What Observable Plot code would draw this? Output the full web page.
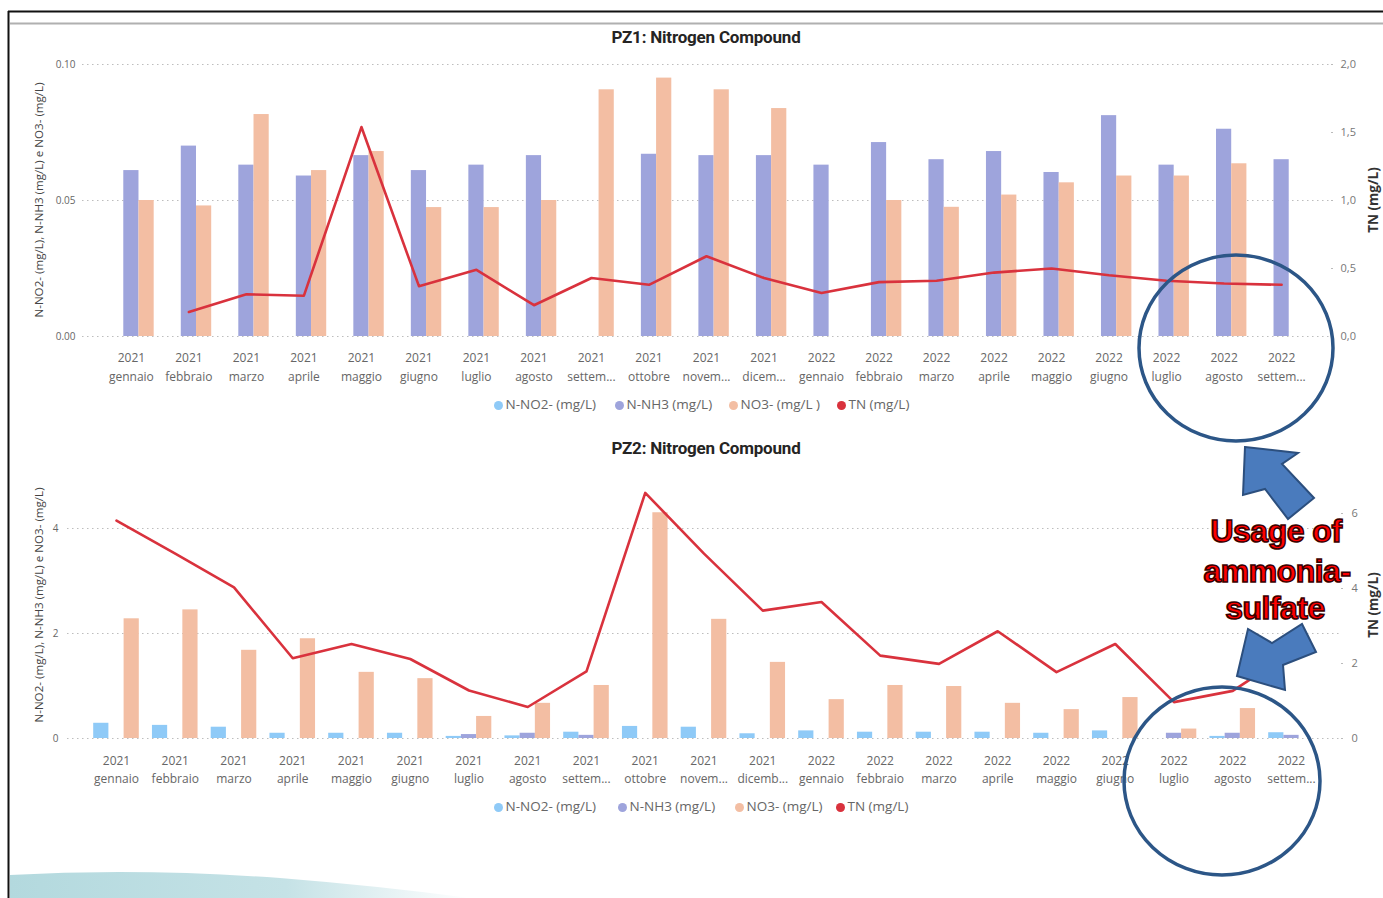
<!DOCTYPE html>
<html>
<head>
<meta charset="utf-8">
<script src="https://cdn.jsdelivr.net/npm/d3@7"></script>
<script src="https://cdn.jsdelivr.net/npm/@observablehq/plot@0.6"></script>
<style>
  body { margin: 0; background: #fff; }
  #root { position: relative; width: 1383px; height: 898px; overflow: hidden; background: #fff; font-family: "Open Sans", sans-serif; }
  .title { position: absolute; transform: translate(-50%, -50%); font-family: Roboto, sans-serif; font-weight: 700; font-size: 17px; color: #252423; white-space: nowrap; letter-spacing: -0.2px; }
  .ytitle { position: absolute; transform: translate(-50%, -50%) rotate(-90deg); white-space: nowrap; font-size: 11.6px; color: #444; }
  .rtitle { position: absolute; transform: translate(-50%, -50%) rotate(-90deg); white-space: nowrap; font-size: 13.5px; font-weight: 700; color: #333; }
  .leg { position: absolute; font-size: 13.5px; color: #666; white-space: nowrap; transform: translateY(-50%); }
  .leg span.dot { display: inline-block; width: 9px; height: 9px; border-radius: 50%; margin-right: 3px; vertical-align: -0.5px; }
</style>
</head>
<body>
<div id="root"></div>
<script>
// ---------------- DATA ----------------
const years = ["2021","2021","2021","2021","2021","2021","2021","2021","2021","2021","2021","2021",
               "2022","2022","2022","2022","2022","2022","2022","2022","2022"];
const monthsPZ1 = ["gennaio","febbraio","marzo","aprile","maggio","giugno","luglio","agosto","settem...","ottobre","novem...","dicem...",
                   "gennaio","febbraio","marzo","aprile","maggio","giugno","luglio","agosto","settem..."];
const monthsPZ2 = ["gennaio","febbraio","marzo","aprile","maggio","giugno","luglio","agosto","settem...","ottobre","novem...","dicemb...",
                   "gennaio","febbraio","marzo","aprile","maggio","giugno","luglio","agosto","settem..."];

// PZ1 (mg/L)
const pz1_no2 = [0,0,0,0,0,0,0,0,0,0,0,0,0,0,0,0,0,0,0,0,0];
const pz1_nh3 = [0.061,0.070,0.063,0.059,0.0665,0.061,0.063,0.0665,0,0.067,0.0665,0.0665,0.063,0.0713,0.065,0.068,0.0603,0.0812,0.063,0.0762,0.065];
const pz1_no3 = [0.050,0.048,0.0816,0.061,0.068,0.0474,0.0474,0.050,0.0907,0.095,0.0907,0.0838,0,0.050,0.0475,0.052,0.0565,0.059,0.059,0.0635,0];
const pz1_tn  = [null,0.18,0.31,0.30,1.54,0.37,0.49,0.23,0.43,0.38,0.59,0.43,0.32,0.40,0.41,0.47,0.50,0.45,0.41,0.39,0.38];

// PZ2 (mg/L)
const pz2_no2 = [0.29,0.25,0.215,0.10,0.10,0.10,0.04,0.05,0.12,0.23,0.215,0.09,0.145,0.12,0.12,0.12,0.10,0.145,0,0.04,0.11];
const pz2_nh3 = [0,0,0,0,0,0,0.075,0.10,0.06,0,0,0,0,0,0,0,0,0,0.10,0.10,0.06];
const pz2_no3 = [2.28,2.45,1.68,1.90,1.26,1.14,0.42,0.67,1.01,4.30,2.27,1.45,0.74,1.01,0.99,0.67,0.55,0.78,0.18,0.57,0];
const pz2_tn  = [5.81,4.93,4.03,2.14,2.52,2.12,1.28,0.84,1.79,6.55,4.93,3.41,3.64,2.21,1.99,2.86,1.77,2.52,0.97,1.27,2.3];

const leftTicksPZ1 = [0, 0.05, 0.10];
const rightTicksPZ1 = [0, 0.5, 1, 1.5, 2];
const leftTicksPZ2 = [0, 2, 4];
const rightTicksPZ2 = [0, 2, 4, 6];

const seriesNames = ["N-NO2- (mg/L)", "N-NH3 (mg/L)", "NO3- (mg/L )", "TN (mg/L)"];
const seriesNames2 = ["N-NO2- (mg/L)", "N-NH3 (mg/L)", "NO3- (mg/L)", "TN (mg/L)"];
const colors = { no2: "#8fcaf7", nh3: "#9ea4dc", no3: "#f3bea3", tn: "#d9323d" };

// ---------------- HELPERS ----------------
const root = document.getElementById("root");
const W = 1383;
const n = years.length;
const idx = d3.range(n);
const rows = (arr) => arr.map((v, i) => ({ i, v }));

function panel({ top, height, mt, mb, ml, mr, po, yDomain, yTicks, yFmt, y2Domain, y2Ticks, y2Fmt, y2Pad,
                 no2, nh3, no3, tn, months, yPad, yearPad, monthPad }) {
  const frameW = W - ml - mr;
  const step = frameW / (n + 2 * po);
  const barW = 15.2;
  const inset = (step - barW) / 2;
  const xScale = { type: "band", domain: idx, paddingInner: 0, paddingOuter: po, round: false };
  const common = { width: W, height, marginTop: mt, marginBottom: mb, marginLeft: ml, marginRight: mr };

  const bars = (arr, fill, dx) =>
    Plot.barY(rows(arr).filter(d => d.v > 0), { x: "i", y: "v", fill, insetLeft: inset, insetRight: inset, dx });

  const p1 = Plot.plot({
    ...common,
    style: { background: "transparent", fontFamily: "Open Sans, sans-serif", overflow: "visible" },
    x: xScale,
    y: { domain: yDomain },
    marks: [
      Plot.gridY(yTicks, { stroke: "#bdbdbd", strokeOpacity: 1, strokeDasharray: "1.5,3.5" }),
      bars(no2, colors.no2, -barW),
      bars(nh3, colors.nh3, 0),
      bars(no3, colors.no3, barW),
      Plot.axisY({ ticks: yTicks, tickFormat: yFmt, tickSize: 0, tickPadding: yPad, fontSize: 10, fill: "#666", label: null }),
      Plot.axisX({ tickSize: 0, tickPadding: yearPad, tickFormat: i => years[i], fontSize: 12, fill: "#666", label: null }),
      Plot.axisX({ tickSize: 0, tickPadding: monthPad, tickFormat: i => months[i], fontSize: 12, fill: "#666", label: null })
    ]
  });
  const p2 = Plot.plot({
    ...common,
    style: { background: "transparent", fontFamily: "Open Sans, sans-serif", overflow: "visible" },
    x: { ...xScale, axis: null },
    y: { domain: y2Domain },
    marks: [
      Plot.axisY({ anchor: "right", ticks: y2Ticks, tickFormat: y2Fmt, tickSize: 2, stroke: "#bbb", tickPadding: y2Pad, fontSize: 11, fill: "#777", label: null }),
      Plot.line(rows(tn), { x: "i", y: "v", stroke: colors.tn, strokeWidth: 2.6, curve: "linear" })
    ]
  });
  for (const p of [p1, p2]) {
    p.style.position = "absolute";
    p.style.left = "0px";
    p.style.top = top + "px";
    p.style.maxWidth = "none";
    root.appendChild(p);
  }
}

function addDiv(cls, text, x, y) {
  const d = document.createElement("div");
  d.className = cls;
  d.textContent = text;
  d.style.left = x + "px";
  d.style.top = y + "px";
  root.appendChild(d);
  return d;
}

function legend(y, xs, names) {
  const cols = [colors.no2, colors.nh3, colors.no3, colors.tn];
  names.forEach((name, k) => {
    const d = document.createElement("div");
    d.className = "leg";
    d.style.left = (xs[k] - 4.5) + "px";
    d.style.top = y + "px";
    d.innerHTML = `<span class="dot" style="background:${cols[k]}"></span>${name}`;
    root.appendChild(d);
  });
}

// ---------------- FRAME / DECOR ----------------
const deco = document.createElementNS("http://www.w3.org/2000/svg", "svg");
deco.setAttribute("width", W); deco.setAttribute("height", 898);
deco.style.position = "absolute"; deco.style.left = "0"; deco.style.top = "0";
deco.innerHTML = `
  <defs>
    <linearGradient id="sw" x1="0" x2="1" y1="0" y2="0">
      <stop offset="0" stop-color="#b3d9de"/>
      <stop offset="0.6" stop-color="#c5e2e6"/>
      <stop offset="1" stop-color="#ffffff"/>
    </linearGradient>
  </defs>
  <path d="M10,898 L10,875 Q140,868 280,878 Q380,886 470,898 Z" fill="url(#sw)"/>
  <line x1="8" y1="11.5" x2="1383" y2="11.5" stroke="#111" stroke-width="2"/>
  <line x1="8.5" y1="11" x2="8.5" y2="898" stroke="#111" stroke-width="2"/>
  <line x1="10" y1="23.5" x2="1383" y2="23.5" stroke="#b0b0b0" stroke-width="2"/>
`;
root.appendChild(deco);

// ---------------- PANELS ----------------
panel({
  top: 40, height: 400, mt: 24, mb: 104, ml: 82, mr: 53, po: 0.35,
  yDomain: [0, 0.10], yTicks: leftTicksPZ1, yFmt: d3.format(".2f"),
  y2Domain: [0, 2], y2Ticks: rightTicksPZ1, y2Fmt: d => d.toFixed(1).replace(".", ","), y2Pad: 8,
  no2: pz1_no2, nh3: pz1_nh3, no3: pz1_no3, tn: pz1_tn, months: monthsPZ1,
  yPad: 7, yearPad: 17, monthPad: 36
});
panel({
  top: 450, height: 390, mt: 25.5, mb: 102, ml: 67, mr: 43, po: 0.334,
  yDomain: [0, 5], yTicks: leftTicksPZ2, yFmt: d => d,
  y2Domain: [0, 7], y2Ticks: rightTicksPZ2, y2Fmt: d => d, y2Pad: 9,
  no2: pz2_no2, nh3: pz2_nh3, no3: pz2_no3, tn: pz2_tn, months: monthsPZ2,
  yPad: 9, yearPad: 18, monthPad: 36
});

// ---------------- TEXT ----------------
addDiv("title", "PZ1: Nitrogen Compound", 706, 37);
addDiv("title", "PZ2: Nitrogen Compound", 706, 448);
addDiv("ytitle", "N-NO2- (mg/L), N-NH3 (mg/L) e NO3- (mg/L)", 38, 200);
addDiv("ytitle", "N-NO2- (mg/L), N-NH3 (mg/L) e NO3- (mg/L)", 38, 605);
addDiv("rtitle", "TN (mg/L)", 1373, 200);
addDiv("rtitle", "TN (mg/L)", 1373, 605);
legend(404, [498, 619, 733, 841], seriesNames);
legend(806, [498, 622, 739, 840], seriesNames2);

// ---------------- ANNOTATIONS ----------------
const ann = document.createElementNS("http://www.w3.org/2000/svg", "svg");
ann.setAttribute("width", W); ann.setAttribute("height", 898);
ann.style.position = "absolute"; ann.style.left = "0"; ann.style.top = "0";
ann.innerHTML = `
  <ellipse cx="1236" cy="348" rx="97" ry="93" fill="none" stroke="#2c5687" stroke-width="3.5"/>
  <ellipse cx="1222" cy="781" rx="98" ry="94" fill="none" stroke="#2c5687" stroke-width="3.5"/>
  <polygon points="1245,447 1298,453 1282,464 1314,498 1288,519 1265,489 1243,495" fill="#4a7bbd" stroke="#2c4f7e" stroke-width="2" stroke-linejoin="miter"/>
  <polygon points="1237,676 1248,629 1272,643 1302,624 1316,652 1283,665 1285,690" fill="#4a7bbd" stroke="#2c4f7e" stroke-width="2" stroke-linejoin="miter"/>
  <g font-family="Liberation Sans, Arial, sans-serif" font-weight="700" font-size="32" fill="#ff0000" stroke="#3a0000" stroke-width="1.6" text-anchor="middle" letter-spacing="-0.5">
    <text x="1276" y="542">Usage of</text>
    <text x="1277" y="582">ammonia-</text>
    <text x="1275" y="619">sulfate</text>
  </g>
`;
root.appendChild(ann);
</script>
</body>
</html>
